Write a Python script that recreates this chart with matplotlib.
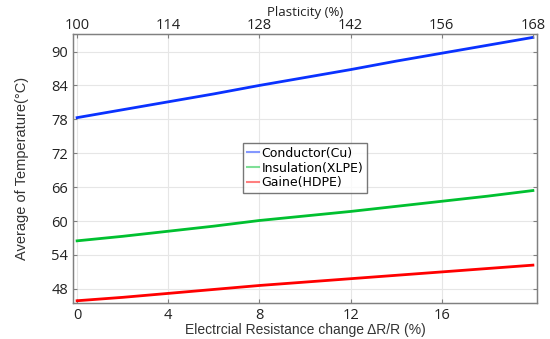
import matplotlib
matplotlib.use("Agg")
import matplotlib.pyplot as plt
import numpy as np

# Data
dr = [0, 2, 4, 6, 8, 10, 12, 14, 16, 18, 20]
conductor = [78.3, 79.7, 81.1, 82.5, 84.0, 85.4, 86.8, 88.3, 89.7, 91.1, 92.5]
insulation = [56.5, 57.3, 58.2, 59.1, 60.1, 60.9, 61.7, 62.6, 63.5, 64.4, 65.4]
gaine = [45.9, 46.5, 47.2, 47.9, 48.6, 49.2, 49.8, 50.4, 51.0, 51.6, 52.2]

x_ticks = [0, 4, 8, 12, 16]
y_ticks = [48, 54, 60, 66, 72, 78, 84, 90]
top_tick_pos = [0, 4, 8, 12, 16, 20]
top_tick_labels = ["100", "114", "128", "142", "156", "168"]

tick_font = "Open Sans"
label_font = "Liberation Sans"

fig = plt.figure(figsize=(5.5, 3.39), dpi=100)
ax = fig.add_axes([73/550, 1 - 303/339, (537-73)/550, (303-34)/339])

ax.plot(dr, conductor, color="#0a32ff", lw=2.0, label="Conductor(Cu)")
ax.plot(dr, insulation, color="#00c030", lw=2.0, label="Insulation(XLPE)")
ax.plot(dr, gaine, color="#ff0000", lw=2.0, label="Gaine(HDPE)")

ax.set_xlim(-0.18, 20.18)
ax.set_ylim(45.5, 93.1)
ax.set_xticks(x_ticks)
ax.set_yticks(y_ticks)
ax.grid(True, color="#e6e6e6", lw=0.8)
ax.set_axisbelow(True)

for s in ax.spines.values():
    s.set_color("#808080")
    s.set_linewidth(1.0)
ax.tick_params(direction="in", length=3, color="#808080", labelsize=10.5,
               right=True, labelcolor="#222222")
for lab in ax.get_xticklabels() + ax.get_yticklabels():
    lab.set_fontfamily(tick_font)

ax.set_xlabel("Electrcial Resistance change ΔR/R (%)", fontsize=10,
              fontfamily=label_font, color="#333333", labelpad=0)
ax.set_ylabel("Average of Temperature(°C)", fontsize=10.5,
              fontfamily=label_font, color="#333333", labelpad=16)

ax2 = ax.twiny()
ax2.set_xlim(ax.get_xlim())
ax2.set_xticks(top_tick_pos)
ax2.set_xticklabels(top_tick_labels)
ax2.tick_params(direction="in", length=3, color="#808080", labelsize=10.5,
                labelcolor="#222222", pad=1)
for lab in ax2.get_xticklabels():
    lab.set_fontfamily(tick_font)
for s in ax2.spines.values():
    s.set_color("#808080")
ax2.set_xlabel("Plasticity (%)", fontsize=9.5, fontfamily=tick_font,
               color="#222222", labelpad=1)

leg = ax.legend(loc="upper left", bbox_to_anchor=((243-73)/464, 1 - (143-34)/269),
                frameon=True, fancybox=False, handlelength=1.0, handletextpad=0.2,
                borderpad=0.3, labelspacing=0.15, borderaxespad=0,
                prop={"family": "DejaVu Sans", "size": 9})
leg.get_frame().set_edgecolor("#555555")
leg.get_frame().set_linewidth(1.0)
for h in leg.get_lines():
    h.set_alpha(0.5)
    h.set_linewidth(1.5)

fig.savefig("out.png", dpi=100)
